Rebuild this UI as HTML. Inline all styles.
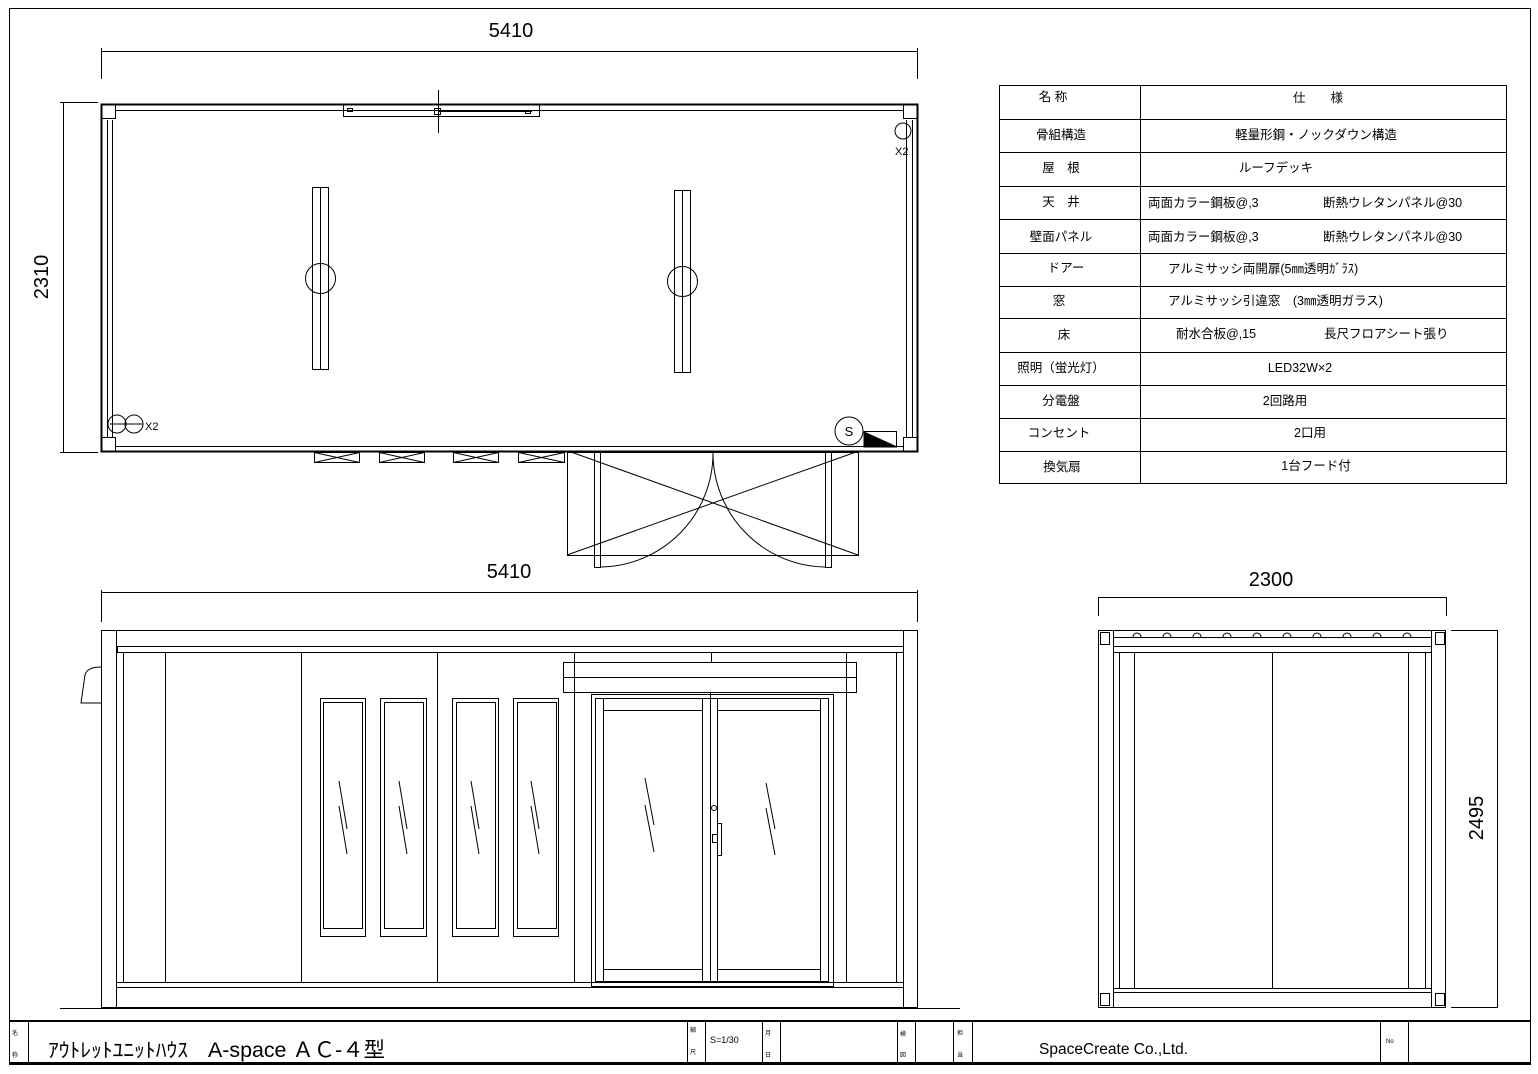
<!DOCTYPE html>
<html><head><meta charset="utf-8">
<style>
html,body{margin:0;padding:0;background:#fff;}
svg{display:block;}
text{font-family:"Liberation Sans","Noto Sans CJK JP",sans-serif;fill:#000;}
</style></head>
<body>
<svg width="1538" height="1074" viewBox="0 0 1538 1074" xmlns="http://www.w3.org/2000/svg">
<rect width="1538" height="1074" fill="#fff"/>
<g fill="none" stroke="#000" stroke-width="1">
<rect x="9.5" y="8.5" width="1521" height="1056"/>

<!-- PLAN -->
<line x1="101" y1="51.5" x2="918" y2="51.5"/>
<line x1="101.5" y1="48" x2="101.5" y2="79"/>
<line x1="917.5" y1="48" x2="917.5" y2="79"/>
<line x1="63.5" y1="102" x2="63.5" y2="453"/>
<line x1="60" y1="102.5" x2="98" y2="102.5"/>
<line x1="60" y1="452.5" x2="98" y2="452.5"/>
<rect x="101.5" y="104.5" width="816" height="347" stroke-width="2"/>
<line x1="116" y1="110.5" x2="903" y2="110.5"/>
<line x1="116" y1="446.5" x2="903" y2="446.5"/>
<line x1="107.5" y1="120" x2="107.5" y2="437"/>
<line x1="112.5" y1="120" x2="112.5" y2="437"/>
<line x1="906.5" y1="120" x2="906.5" y2="437"/>
<line x1="912.5" y1="120" x2="912.5" y2="437"/>
<rect x="101.5" y="104.5" width="14" height="14"/>
<rect x="101.5" y="437.5" width="14" height="14"/>
<rect x="903.5" y="104.5" width="14" height="14"/>
<rect x="903.5" y="437.5" width="14" height="14"/>
<rect x="343.5" y="104.5" width="196" height="12"/>
<line x1="438" y1="111.5" x2="532" y2="111.5"/>
<rect x="347.5" y="108.5" width="5" height="3"/>
<rect x="525.5" y="110.5" width="5" height="3"/>
<rect x="434.5" y="108.5" width="6" height="6"/>
<line x1="438.5" y1="90" x2="438.5" y2="133"/>
<rect x="312.5" y="187.5" width="16" height="182"/>
<line x1="320.5" y1="187" x2="320.5" y2="369"/>
<circle cx="320.5" cy="278.5" r="15"/>
<rect x="674.5" y="190.5" width="16" height="182"/>
<line x1="682.5" y1="190" x2="682.5" y2="372"/>
<circle cx="682.5" cy="281.5" r="15"/>
<circle cx="903" cy="131" r="8"/>
<circle cx="117" cy="424" r="9"/>
<circle cx="134" cy="424" r="9"/>
<line x1="110" y1="424" x2="143" y2="424"/>
<g>
<rect x="314.5" y="452.5" width="45" height="10"/><path d="M314.5 452.5 L359.5 462.5 M314.5 462.5 L359.5 452.5"/>
<rect x="379.5" y="452.5" width="45" height="10"/><path d="M379.5 452.5 L424.5 462.5 M379.5 462.5 L424.5 452.5"/>
<rect x="453.5" y="452.5" width="45" height="10"/><path d="M453.5 452.5 L498.5 462.5 M453.5 462.5 L498.5 452.5"/>
<rect x="518.5" y="452.5" width="46" height="10"/><path d="M518.5 452.5 L564.5 462.5 M518.5 462.5 L564.5 452.5"/>
</g>
<rect x="567.5" y="452.5" width="291" height="103"/>
<path d="M571 452 L858 555 M567 555 L856 452"/>
<rect x="594.5" y="452.5" width="6" height="115"/>
<rect x="825.5" y="452.5" width="6" height="115"/>
<path d="M601 567 A114 114 0 0 0 713 453"/>
<path d="M825 567 A114 114 0 0 1 713 453"/>
<circle cx="849" cy="431" r="14"/>
<text x="849" y="436" font-size="13" text-anchor="middle" stroke="none">S</text>
<rect x="864.5" y="431.5" width="32" height="15"/>
<path d="M864 432 L897 447 L864 447 Z" fill="#000"/>

<!-- SPEC TABLE -->
<rect x="999.5" y="85.5" width="507" height="398"/>
<line x1="1140.5" y1="85" x2="1140.5" y2="483"/>
<path d="M999 119.5H1506 M999 152.5H1506 M999 186.5H1506 M999 219.5H1506 M999 253.5H1506 M999 286.5H1506 M999 318.5H1506 M999 352.5H1506 M999 385.5H1506 M999 418.5H1506 M999 451.5H1506"/>

<!-- FRONT ELEVATION -->
<line x1="101" y1="592.5" x2="918" y2="592.5"/>
<line x1="101.5" y1="590" x2="101.5" y2="622"/>
<line x1="917.5" y1="590" x2="917.5" y2="622"/>
<rect x="101.5" y="630.5" width="816" height="377"/>
<line x1="116.5" y1="630" x2="116.5" y2="1007"/>
<line x1="903.5" y1="630" x2="903.5" y2="1007"/>
<line x1="116" y1="646.5" x2="903" y2="646.5"/>
<line x1="117" y1="652.5" x2="903" y2="652.5"/>
<line x1="117" y1="987.5" x2="903" y2="987.5"/>
<line x1="117" y1="982.5" x2="903" y2="982.5"/>
<line x1="117.5" y1="646" x2="117.5" y2="652"/>
<line x1="123.5" y1="652" x2="123.5" y2="983"/>
<line x1="165.5" y1="652" x2="165.5" y2="983"/>
<line x1="301.5" y1="652" x2="301.5" y2="983"/>
<line x1="437.5" y1="652" x2="437.5" y2="983"/>
<line x1="574.5" y1="652" x2="574.5" y2="983"/>
<line x1="711.5" y1="652" x2="711.5" y2="662"/>
<line x1="846.5" y1="652" x2="846.5" y2="983"/>
<line x1="896.5" y1="652" x2="896.5" y2="983"/>
<line x1="60" y1="1008.5" x2="960" y2="1008.5"/>
<path d="M101 667 Q87 667 85 675 L81 703 L101 703"/>
<rect x="320.5" y="698.5" width="45" height="238"/><rect x="323.5" y="702.5" width="39" height="226"/>
<rect x="380.5" y="698.5" width="46" height="238"/><rect x="384.5" y="702.5" width="39" height="226"/>
<rect x="452.5" y="698.5" width="46" height="238"/><rect x="456.5" y="702.5" width="39" height="226"/>
<rect x="513.5" y="698.5" width="45" height="238"/><rect x="517.5" y="702.5" width="39" height="226"/>
<path d="M339 781 L347 829 M339 806 L347 854 M399 781 L407 829 M399 806 L407 854 M471 781 L479 829 M471 806 L479 854 M531 781 L539 829 M531 806 L539 854"/>
<rect x="563.5" y="662.5" width="293" height="30"/>
<line x1="563" y1="677.5" x2="856" y2="677.5"/>
<rect x="591.5" y="694.5" width="242" height="292"/>
<rect x="595.5" y="698.5" width="233" height="283"/>
<line x1="603.5" y1="698" x2="603.5" y2="981"/>
<line x1="702.5" y1="698" x2="702.5" y2="981"/>
<line x1="710.5" y1="692" x2="710.5" y2="981"/>
<line x1="717.5" y1="698" x2="717.5" y2="981"/>
<line x1="820.5" y1="698" x2="820.5" y2="981"/>
<line x1="603" y1="710.5" x2="702" y2="710.5"/>
<line x1="717" y1="710.5" x2="820" y2="710.5"/>
<line x1="603" y1="969.5" x2="702" y2="969.5"/>
<line x1="717" y1="969.5" x2="820" y2="969.5"/>
<rect x="717.5" y="823.5" width="4" height="32"/>
<rect x="712.5" y="834.5" width="5" height="8"/>
<circle cx="714" cy="808" r="2.5"/>
<path d="M645 778 L654 825 M645 805 L654 852 M766 783 L775 829 M766 808 L775 855"/>

<!-- SIDE ELEVATION -->
<line x1="1098" y1="597.5" x2="1446" y2="597.5"/>
<line x1="1098.5" y1="597" x2="1098.5" y2="616"/>
<line x1="1446.5" y1="597" x2="1446.5" y2="616"/>
<rect x="1098.5" y="630.5" width="347" height="377"/>
<line x1="1113.5" y1="630" x2="1113.5" y2="1007"/>
<line x1="1431.5" y1="630" x2="1431.5" y2="1007"/>
<line x1="1113" y1="637.5" x2="1431" y2="637.5"/>
<line x1="1113" y1="646.5" x2="1431" y2="646.5"/>
<line x1="1113" y1="652.5" x2="1431" y2="652.5"/>
<line x1="1113" y1="988.5" x2="1431" y2="988.5"/>
<line x1="1113" y1="992.5" x2="1431" y2="992.5"/>
<line x1="1119.5" y1="652" x2="1119.5" y2="988"/>
<line x1="1134.5" y1="652" x2="1134.5" y2="988"/>
<line x1="1272.5" y1="652" x2="1272.5" y2="988"/>
<line x1="1408.5" y1="652" x2="1408.5" y2="988"/>
<line x1="1425.5" y1="652" x2="1425.5" y2="988"/>
<rect x="1100.5" y="632.5" width="9" height="12"/>
<rect x="1435.5" y="632.5" width="9" height="12"/>
<rect x="1100.5" y="993.5" width="9" height="12"/>
<rect x="1435.5" y="993.5" width="9" height="12"/>
<path d="M1133 637 a4 4 0 0 1 8 0 M1163 637 a4 4 0 0 1 8 0 M1193 637 a4 4 0 0 1 8 0 M1223 637 a4 4 0 0 1 8 0 M1253 637 a4 4 0 0 1 8 0 M1283 637 a4 4 0 0 1 8 0 M1313 637 a4 4 0 0 1 8 0 M1343 637 a4 4 0 0 1 8 0 M1373 637 a4 4 0 0 1 8 0 M1403 637 a4 4 0 0 1 8 0"/>
<line x1="1451" y1="630.5" x2="1497" y2="630.5"/>
<line x1="1451" y1="1007.5" x2="1497" y2="1007.5"/>
<line x1="1497.5" y1="630" x2="1497.5" y2="1008"/>

<!-- TITLE BLOCK -->
<line x1="9" y1="1021" x2="1530" y2="1021" stroke-width="2"/>
<line x1="9" y1="1063" x2="1530" y2="1063" stroke-width="2"/>
<path d="M28.5 1021V1063 M687.5 1021V1063 M705.5 1021V1063 M762.5 1021V1063 M780.5 1021V1063 M897.5 1021V1063 M915.5 1021V1063 M953.5 1021V1063 M972.5 1021V1063 M1380.5 1021V1063 M1408.5 1021V1063"/>
</g>

<g stroke="none">
<text x="511" y="37" font-size="20" text-anchor="middle">5410</text>
<text x="509" y="578" font-size="20" text-anchor="middle">5410</text>
<text x="1271" y="586" font-size="20" text-anchor="middle">2300</text>
<text transform="translate(48,277) rotate(-90)" font-size="20" text-anchor="middle">2310</text>
<text transform="translate(1483,818) rotate(-90)" font-size="20" text-anchor="middle">2495</text>
<text x="895" y="155" font-size="11">X2</text>
<text x="145" y="430" font-size="11">X2</text>

<g font-size="12.5" text-anchor="middle">
<text x="1053" y="101">名 称</text>
<text x="1318" y="102">仕　　様</text>
<text x="1061" y="139">骨組構造</text>
<text x="1316" y="139">軽量形鋼・ノックダウン構造</text>
<text x="1061" y="172">屋　根</text>
<text x="1276" y="172">ルーフデッキ</text>
<text x="1061" y="206">天　井</text>
<text x="1061" y="241">壁面パネル</text>
<text x="1066" y="272">ドアー</text>
<text x="1059" y="305">窓</text>
<text x="1064" y="339">床</text>
<text x="1061" y="372">照明（蛍光灯）</text>
<text x="1061" y="405">分電盤</text>
<text x="1059" y="437">コンセント</text>
<text x="1062" y="471">換気扇</text>
<text x="1300" y="372">LED32W×2</text>
<text x="1285" y="405">2回路用</text>
<text x="1310" y="437">2口用</text>
<text x="1316" y="470">1台フード付</text>
</g>
<g font-size="12.5">
<text x="1148" y="207">両面カラー鋼板@,3</text>
<text x="1323" y="207">断熱ウレタンパネル@30</text>
<text x="1148" y="241">両面カラー鋼板@,3</text>
<text x="1323" y="241">断熱ウレタンパネル@30</text>
<text x="1168" y="273">アルミサッシ両開扉(5㎜透明ｶﾞﾗｽ)</text>
<text x="1168" y="305">アルミサッシ引違窓　(3㎜透明ガラス)</text>
<text x="1176" y="338">耐水合板@,15</text>
<text x="1324" y="338">長尺フロアシート張り</text>
</g>

<g font-size="6">
<text x="12" y="1035">名</text><text x="12" y="1057">称</text>
<text x="690" y="1032">縮</text><text x="690" y="1054">尺</text>
<text x="765" y="1035">月</text><text x="765" y="1057">日</text>
<text x="900" y="1036">検</text><text x="900" y="1057">図</text>
<text x="957" y="1035">担</text><text x="957" y="1057">当</text>
<text x="1386" y="1043">No</text>
</g>
<text x="48" y="1057" font-size="20" textLength="140" lengthAdjust="spacingAndGlyphs">ｱｳﾄﾚｯﾄﾕﾆｯﾄﾊｳｽ</text>
<text x="208" y="1057" font-size="21" textLength="177" lengthAdjust="spacingAndGlyphs">A-space ＡＣ-４型</text>
<text x="710" y="1043" font-size="9">S=1/30</text>
<text x="1039" y="1054" font-size="15.5">SpaceCreate Co.,Ltd.</text>
</g>
</svg>
</body></html>
